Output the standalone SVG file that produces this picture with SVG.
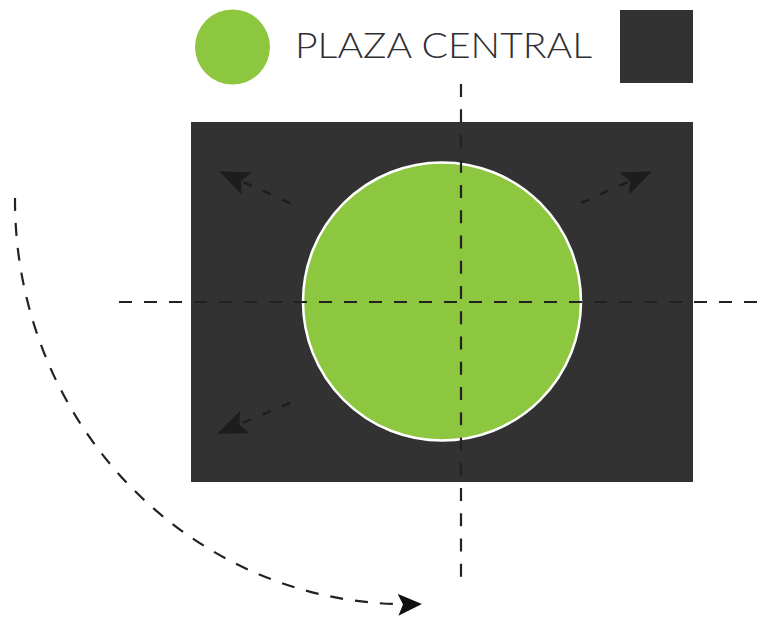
<svg xmlns="http://www.w3.org/2000/svg" width="766" height="619" viewBox="0 0 766 619">
<defs>
<style>
.dash{fill:none;stroke:#222;stroke-width:2.2;stroke-dasharray:13 12}
.dashin{fill:none;stroke:#1e1d1e;stroke-width:2.5;stroke-dasharray:9 12}
.lbl{font-family:"Lato","Liberation Sans",sans-serif;font-weight:300;font-size:35px;fill:#2e2e33}
</style>
<marker id="ahs" markerWidth="30" markerHeight="30" viewBox="0 0 30 30" refX="28" refY="15" orient="auto" markerUnits="userSpaceOnUse">
<path d="M0,3 L30,15 L0,27 L6,15 Z" fill="#1e1d1e"/>
</marker>
<marker id="ahb" markerWidth="24" markerHeight="24" viewBox="0 0 24 24" refX="22" refY="12" orient="auto" markerUnits="userSpaceOnUse">
<path d="M0,1 L24,12 L0,23 L5,12 Z" fill="#111"/>
</marker>
</defs>
<g id="legend-circle"><circle cx="232.5" cy="47" r="37.5" fill="#8dc63f"/></g>
<g id="legend-label"><text class="lbl" x="295" y="58" textLength="297" lengthAdjust="spacingAndGlyphs">PLAZA CENTRAL</text></g>
<g id="legend-square"><rect x="620" y="10" width="73" height="73" fill="#333233"/></g>
<g id="block"><rect x="191" y="122" width="502" height="360" fill="#333233"/></g>
<g id="plaza"><circle cx="442" cy="301.5" r="139" fill="#8dc63f" stroke="#fff" stroke-width="2.5"/></g>
<g id="connectors">
<line class="dash" x1="461" y1="84" x2="461" y2="584" style="stroke-dasharray:13 12.25"/>
<line class="dash" x1="119" y1="302" x2="766" y2="302"/>
<path class="dashin" d="M290,203 L221,172" marker-end="url(#ahs)"/>
<path class="dashin" d="M581,203 L650,172" marker-end="url(#ahs)"/>
<path class="dashin" d="M290,403 L219,433" marker-end="url(#ahs)"/>
<path class="dash" d="M15,198 A392,404 0 0 0 420,604" marker-end="url(#ahb)"/>
</g>
</svg>
